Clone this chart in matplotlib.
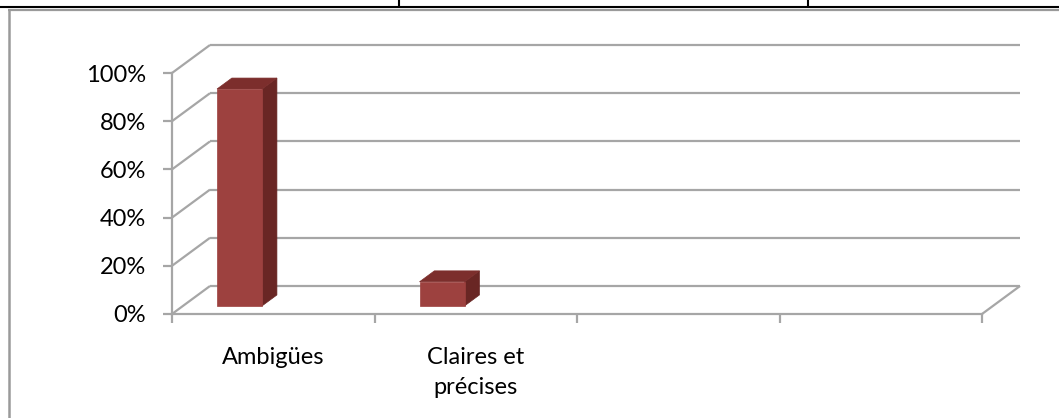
import matplotlib
matplotlib.use("Agg")
import matplotlib.pyplot as plt
from matplotlib.patches import Polygon
from matplotlib.lines import Line2D
from matplotlib import transforms as mtransforms

# ---- data -------------------------------------------------------------
categories = ["Ambigües", "Claires et\nprécises", "", ""]
values = [0.90, 0.10, None, None]          # share of answers, series 1
y_ticks = [0.0, 0.2, 0.4, 0.6, 0.8, 1.0]
y_tick_labels = ["0%", "20%", "40%", "60%", "80%", "100%"]

# ---- style ------------------------------------------------------------
W, H, DPI = 1059, 418, 100
GRID = "#a6a6a6"
FRONT, SIDE, TOP = "#9d413f", "#692624", "#7c2e2c"
DEPTH = (38.0, 28.0)          # pixel shift from the front plane to the back wall
BAR_W, BAR_GAP = 0.2225, 0.168   # bar width / left gap inside a category (data units)
BAR_D0, BAR_D1 = 0.29, 0.68      # bar front / back position along the depth
FS = 17

plt.rcParams["font.family"] = ["Lato", "DejaVu Sans"]

fig = plt.figure(figsize=(W / DPI, H / DPI), dpi=DPI)
ax = fig.add_axes([172 / W, 1 - 314 / H, 810 / W, 241 / H])
ax.set_xlim(0, len(categories))
ax.set_ylim(0, 1)
ax.patch.set_visible(False)

ident = mtransforms.IdentityTransform()


def proj(x, y, d):
    px, py = ax.transData.transform((x, y))
    return (px + d * DEPTH[0], py + d * DEPTH[1])


def seg(p0, p1, **kw):
    ln = Line2D([p0[0], p1[0]], [p0[1], p1[1]], transform=ident, color=GRID,
                lw=1.6, clip_on=False, solid_capstyle="butt", **kw)
    ax.add_artist(ln)


n = len(categories)
# back wall gridlines and side-wall diagonals
for yv in y_ticks:
    seg(proj(0, yv, 1), proj(n, yv, 1), zorder=1)
    seg(proj(0, yv, 0), proj(0, yv, 1), zorder=1)
# right edge of the floor
seg(proj(n, 0, 0), proj(n, 0, 1), zorder=1)

# 3-D looking columns
for i, v in enumerate(values):
    if v is None:
        continue
    x0 = i + BAR_GAP
    x1 = x0 + BAR_W
    front = [proj(x0, 0, BAR_D0), proj(x1, 0, BAR_D0), proj(x1, v, BAR_D0), proj(x0, v, BAR_D0)]
    side = [proj(x1, 0, BAR_D0), proj(x1, 0, BAR_D1), proj(x1, v, BAR_D1), proj(x1, v, BAR_D0)]
    top = [proj(x0, v, BAR_D0), proj(x1, v, BAR_D0), proj(x1, v, BAR_D1), proj(x0, v, BAR_D1)]
    for pts, col in ((side, SIDE), (top, TOP), (front, FRONT)):
        ax.add_patch(Polygon(pts, closed=True, transform=ident, facecolor=col,
                             edgecolor=col, lw=0.5, zorder=3, clip_on=False))

# axes
for s in ("top", "right"):
    ax.spines[s].set_visible(False)
for s in ("left", "bottom"):
    ax.spines[s].set_color(GRID)
    ax.spines[s].set_linewidth(1.6)
    ax.spines[s].set_zorder(2)

ax.set_yticks(y_ticks)
ax.set_yticklabels(y_tick_labels)
ax.tick_params(axis="y", direction="out", length=6.5, width=1.6, color=GRID,
               pad=12, labelsize=FS, labelcolor="black")

ax.set_xticks(range(n + 1))
ax.set_xticklabels([])
ax.tick_params(axis="x", which="major", direction="out", length=6.5, width=1.6, color=GRID)
ax.set_xticks([i + 0.5 for i in range(n)], minor=True)
ax.set_xticklabels(categories, minor=True, fontsize=FS, linespacing=1.5)
ax.tick_params(axis="x", which="minor", length=0, pad=24)

# surrounding frame and table rules
def fig_line(xs, ys, color, lw):
    fig.add_artist(Line2D([x / W for x in xs], [1 - y / H for y in ys],
                          transform=fig.transFigure, color=color, lw=lw,
                          solid_capstyle="butt"))

fig_line([0, W], [7, 7], "black", 1.5)
fig_line([399, 399], [0, 7], "black", 1.5)
fig_line([808, 808], [0, 7], "black", 1.5)
fig_line([8, W], [10, 10], "#9a9a9a", 1.6)
fig_line([9, 9], [10, H], "#9a9a9a", 1.8)

fig.savefig("out.png", dpi=DPI)
